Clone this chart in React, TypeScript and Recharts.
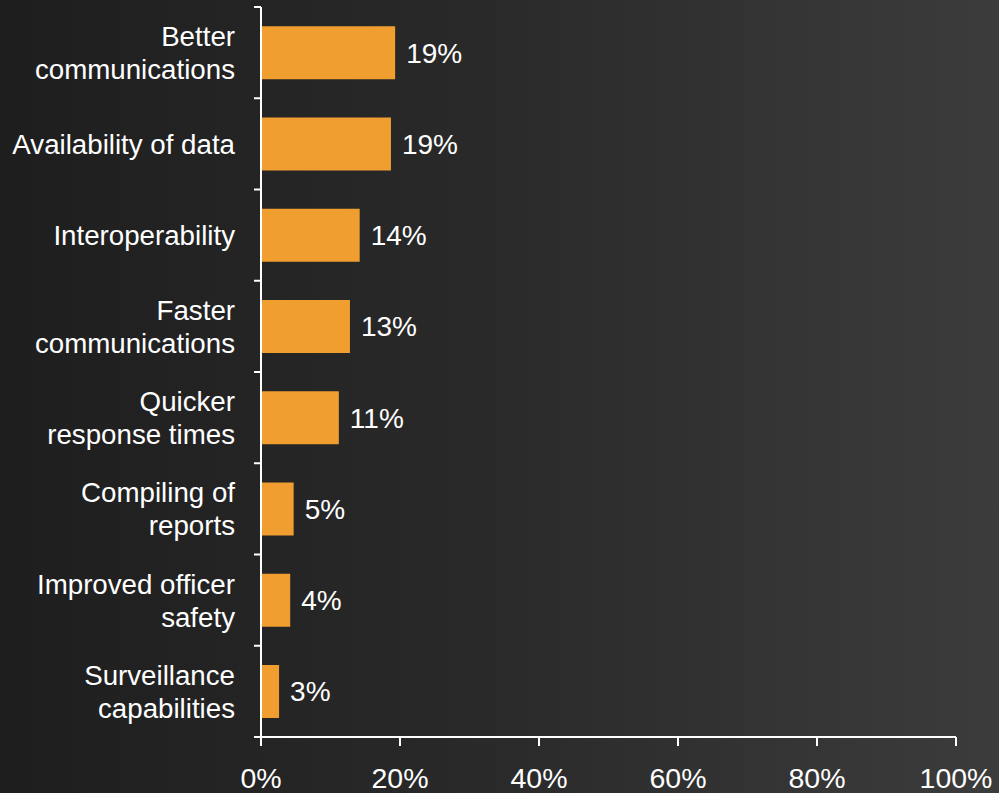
import React from 'react';
import { BarChart, Bar, XAxis, YAxis, LabelList } from 'recharts';

const categories = [
  'Better\ncommunications',
  'Availability of data',
  'Interoperability',
  'Faster\ncommunications',
  'Quicker\nresponse times',
  'Compiling of\nreports',
  'Improved officer\nsafety',
  'Surveillance\ncapabilities',
];
const shares = [19.3, 18.7, 14.2, 12.8, 11.2, 4.7, 4.2, 2.6];
const xTicks = [0, 20, 40, 60, 80, 100];

const data = categories.map((name, i) => ({ name, value: shares[i] }));

const W = 999;
const H = 793;
const MARGIN = { top: 7, right: 43, bottom: 0, left: 0 };
const X_AXIS_H = 56;
const Y_AXIS_W = 261;
const FONT = '"Liberation Sans", Arial, sans-serif';

// labels sit at band centres, the tick marks go on the band edges
const CategoryTick = (props: any) => {
  const { x, y, payload, index } = props;
  const plotH = H - MARGIN.top - MARGIN.bottom - X_AXIS_H;
  const band = plotH / categories.length;
  const lines = String(payload.value).split('\n');
  const lh = 33;
  const y0 = y - ((lines.length - 1) * lh) / 2;
  return (
    <g>
      <line x1={x - 7} x2={x} y1={y - band / 2} y2={y - band / 2} stroke="#fff" strokeWidth={2} />
      {index === categories.length - 1 && (
        <line x1={x - 7} x2={x} y1={y + band / 2} y2={y + band / 2} stroke="#fff" strokeWidth={2} />
      )}
      <text x={x - 26} y={y0} textAnchor="end" dominantBaseline="central" fill="#fff" fontSize={27.7} fontFamily={FONT}>
        {lines.map((l, i) => (
          <tspan key={i} x={x - 26} y={y0 + i * lh}>{l}</tspan>
        ))}
      </text>
    </g>
  );
};

export default function App() {
  return (
    <div
      style={{
        position: 'absolute',
        left: 0,
        top: 0,
        width: W,
        height: H,
        background: 'linear-gradient(to right, #1e1e1e 0%, #2a2a2a 50%, #3c3c3c 100%)',
        fontFamily: FONT,
      }}
    >
      <BarChart width={W} height={H} data={data} layout="vertical" margin={MARGIN} barCategoryGap="21%">
        <XAxis
          type="number"
          domain={[0, 100]}
          ticks={xTicks}
          interval={0}
          height={X_AXIS_H}
          tickFormatter={(v) => `${v}%`}
          axisLine={{ stroke: '#fff', strokeWidth: 2 }}
          tickLine={{ stroke: '#fff', strokeWidth: 2 }}
          tickSize={9}
          tickMargin={22}
          tick={{ fill: '#fff', fontSize: 28.5, fontFamily: FONT }}
        />
        <YAxis
          type="category"
          dataKey="name"
          width={Y_AXIS_W}
          interval={0}
          axisLine={{ stroke: '#fff', strokeWidth: 2 }}
          tickLine={false}
          tickSize={0}
          tickMargin={0}
          tick={<CategoryTick />}
        />
        <Bar dataKey="value" fill="#f09e30" isAnimationActive={false}>
          <LabelList
            dataKey="value"
            position="right"
            offset={11}
            formatter={(v: any) => `${Math.round(Number(v))}%`}
            fill="#fff"
            fontSize={28}
            fontFamily={FONT}
          />
        </Bar>
      </BarChart>
    </div>
  );
}
